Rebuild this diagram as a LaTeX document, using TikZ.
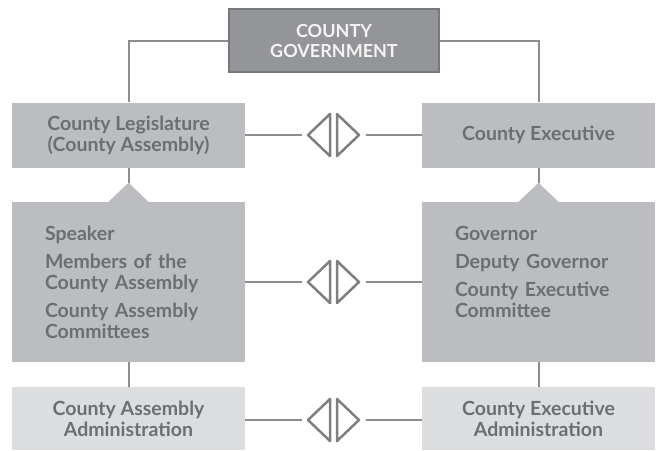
\documentclass[tikz,border=0pt]{standalone}
\usepackage{fontspec}
\setmainfont{Lato}
\definecolor{lncol}{HTML}{8C8D90}
\definecolor{tricol}{HTML}{7E7F83}
\definecolor{topfill}{HTML}{949599}
\definecolor{topedge}{HTML}{77787B}
\definecolor{midfill}{HTML}{BCBDC0}
\definecolor{lightfill}{HTML}{DCDDDF}
\definecolor{txt}{HTML}{6D6E71}
\definecolor{toptxt}{HTML}{F4F4F4}
\tikzset{
  lnk/.style={draw=lncol, line width=2pt},
  tri/.style={draw=tricol, line width=2.5pt, line join=round},
  bodyfont/.style={font=\bfseries\fontsize{19.5}{21}\selectfont},
  topbox/.style={draw=topedge, line width=2pt, fill=topfill, text=toptxt,
    font=\bfseries\fontsize{18}{20}\selectfont,
    minimum width=210pt, minimum height=63pt, align=center, inner sep=0pt},
  headbox/.style={fill=midfill, text=txt, bodyfont, minimum width=233pt,
    minimum height=65pt, align=center, inner sep=0pt},
  listbox/.style={fill=midfill, text=txt, bodyfont, text width=167pt,
    inner xsep=33pt, inner ysep=0pt, minimum height=160pt, align=left},
  adminbox/.style={fill=lightfill, text=txt, bodyfont, minimum width=233pt,
    minimum height=63pt, align=center, inner sep=0pt},
  dtri/.pic={
    \draw[tri] (-3.5,-21) -- (-25.5,0) -- (-3.5,21) -- cycle;
    \draw[tri] (3.5,-21) -- (25.5,0) -- (3.5,21) -- cycle;
    \coordinate (-w) at (-32,0);
    \coordinate (-e) at (32,0);
  }
}
\begin{document}
\begin{tikzpicture}[x=1pt,y=-1pt]
\useasboundingbox (0,0) rectangle (658,450);
% boxes
\node[topbox] (top) at (334,40.5) {COUNTY\\GOVERNMENT};
\node[headbox] (leg) at (128.5,135) {County Legislature\\(County Assembly)};
\node[headbox] (exe) at (538.5,135) {County Executive};
\node[listbox] (legm) at (128.5,282) {Speaker\\[7pt]Members of the\\County Assembly\\[7pt]County Assembly\\Committees};
\node[listbox] (exem) at (538.5,282) {Governor\\[7pt]Deputy Governor\\[7pt]County Executive\\Committee\\\mbox{}};
\node[adminbox] (lega) at (128.5,418.5) {County Assembly\\Administration};
\node[adminbox] (exea) at (538.5,418.5) {County Executive\\Administration};
% pointers
\coordinate (lp) at ([yshift=19pt]legm.north);
\coordinate (ep) at ([yshift=19pt]exem.north);
\fill[midfill] ([xshift=-20pt]legm.north) -- (lp) -- ([xshift=20pt]legm.north) -- cycle;
\fill[midfill] ([xshift=-20pt]exem.north) -- (ep) -- ([xshift=20pt]exem.north) -- cycle;
% tree lines
\draw[lnk] (top.west) -| (leg.north);
\draw[lnk] (top.east) -| (exe.north);
\draw[lnk] (leg.south) -- (lp);
\draw[lnk] (exe.south) -- (ep);
\draw[lnk] (legm.south) -- (lega.north);
\draw[lnk] (exem.south) -- (exea.north);
% relations
\pic (d1) at (333.5,135) {dtri};
\pic (d2) at (333.5,282) {dtri};
\pic (d3) at (333.5,420) {dtri};
\draw[lnk] (leg.east) -- (d1-w);
\draw[lnk] (d1-e) -- (exe.west);
\draw[lnk] (legm.east) -- (d2-w);
\draw[lnk] (d2-e) -- (exem.west);
\draw[lnk] (lega.east |- d3-w) -- (d3-w);
\draw[lnk] (d3-e) -- (exea.west |- d3-e);
\end{tikzpicture}
\end{document}
